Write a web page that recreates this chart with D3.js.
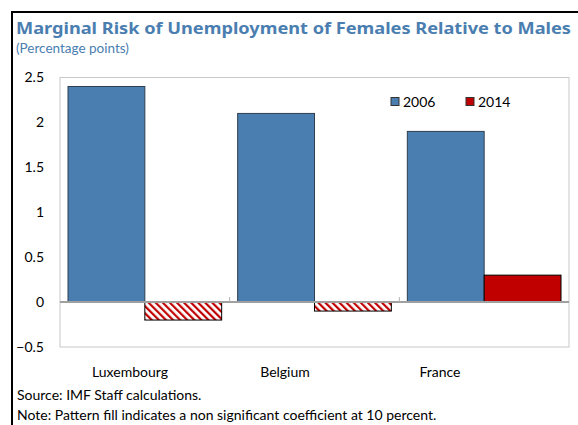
<!DOCTYPE html>
<html><head><meta charset="utf-8">
<script src="https://cdn.jsdelivr.net/npm/d3@7"></script>
<style>body{margin:0;background:#fff}svg{display:block}</style>
</head><body>
<script>
const categories = ["Luxembourg", "Belgium", "France"];
const seriesNames = ["2006", "2014"];
const values2006 = [2.4, 2.1, 1.9];
const values2014 = [-0.2, -0.1, 0.3];
const significant2014 = [false, false, true];
const yTicks = [-0.5, 0, 0.5, 1, 1.5, 2, 2.5];

(function () {
const W = 578, H = 425;
const font = "Lato, 'Open Sans', sans-serif";
const blue = "#4a7eb0", red = "#c00000", titleBlue = "#4a7eb0";

const svg = d3.select("body").append("svg").attr("width", W).attr("height", H);

const defs = svg.append("defs");
const pat = defs.append("pattern").attr("id", "hatch").attr("patternUnits", "userSpaceOnUse")
  .attr("width", 5).attr("height", 5).attr("patternTransform", "rotate(-45)");
pat.append("rect").attr("width", 5).attr("height", 5).attr("fill", "#fff");
pat.append("rect").attr("x", 0).attr("width", 2.2).attr("height", 5).attr("fill", red);

// frame
svg.append("line").attr("x1", 12).attr("x2", W).attr("y1", 12).attr("y2", 12).attr("stroke", "#000").attr("stroke-width", 2);
svg.append("line").attr("x1", 12).attr("x2", 12).attr("y1", 11).attr("y2", H).attr("stroke", "#000").attr("stroke-width", 2);

svg.append("text").attr("x", 16).attr("y", 34).attr("fill", titleBlue)
  .attr("font-family", "'Noto Sans', 'Open Sans', sans-serif").attr("font-weight", 700).attr("font-size", 16.5)
  .attr("textLength", 555).attr("lengthAdjust", "spacingAndGlyphs")
  .text("Marginal Risk of Unemployment of Females Relative to Males");
svg.append("text").attr("x", 16).attr("y", 53).attr("fill", titleBlue)
  .attr("font-family", font).attr("font-size", 13.5)
  .text("(Percentage points)");

const pl = 60, pr = 569, pt = 77.5, pb = 347;
const x = d3.scaleBand().domain(categories).range([pl, pr]).paddingInner(0).paddingOuter(0);
const xLabel = d3.scaleBand().domain(categories).range([52.5, 517.5]);
const y = d3.scaleLinear().domain([-0.5, 2.5]).range([pb, pt]);

// plot border
svg.append("rect").attr("x", pl).attr("y", pt).attr("width", pr - pl).attr("height", pb - pt)
  .attr("fill", "none").attr("stroke", "#c8c8c8").attr("stroke-width", 1);

// y axis labels
const yAxis = d3.axisLeft(y).tickValues(yTicks).tickSize(0).tickPadding(16).tickFormat(d => d3.format("")(d));
const gy = svg.append("g").attr("transform", `translate(${pl},0)`).call(yAxis);
gy.select(".domain").remove();
gy.selectAll("text").attr("font-family", font).attr("font-size", 14).attr("fill", "#000");

const pad = 8;
const barW = (x.bandwidth() - 2 * pad) / 2;

// bars 2006
svg.append("g").selectAll("rect").data(categories).join("rect")
  .attr("x", d => x(d) + pad)
  .attr("width", barW)
  .attr("y", (d, i) => y(Math.max(0, values2006[i])))
  .attr("height", (d, i) => Math.abs(y(values2006[i]) - y(0)))
  .attr("fill", blue).attr("stroke", "#2f3f4f").attr("stroke-width", 1);

// bars 2014
svg.append("g").selectAll("rect").data(categories).join("rect")
  .attr("x", d => x(d) + pad + barW)
  .attr("width", barW)
  .attr("y", (d, i) => y(Math.max(0, values2014[i])))
  .attr("height", (d, i) => Math.abs(y(values2014[i]) - y(0)))
  .attr("fill", (d, i) => significant2014[i] ? red : "url(#hatch)")
  .attr("stroke", "#000").attr("stroke-width", 1);

// zero line
svg.append("line").attr("x1", pl).attr("x2", pr).attr("y1", y(0)).attr("y2", y(0))
  .attr("stroke", "#a0a0a0").attr("stroke-width", 2);

// category ticks at band boundaries
svg.append("g").selectAll("line").data(categories.slice(1)).join("line")
  .attr("x1", d => x(d)).attr("x2", d => x(d))
  .attr("y1", y(0) - 5).attr("y2", y(0))
  .attr("stroke", "#b0b0b0").attr("stroke-width", 1);

// category labels
svg.append("g").selectAll("text").data(categories).join("text")
  .attr("x", d => xLabel(d) + xLabel.bandwidth() / 2).attr("y", 377)
  .attr("text-anchor", "middle").attr("font-family", font).attr("font-size", 14)
  .text(d => d);

// legend
const legX = [391, 466];
const colors = [blue, red];
const lg = svg.append("g").selectAll("g").data(seriesNames).join("g");
lg.append("rect").attr("x", (d, i) => legX[i]).attr("y", 97.5).attr("width", 8).attr("height", 8)
  .attr("fill", (d, i) => colors[i]).attr("stroke", "#333").attr("stroke-width", 1);
lg.append("text").attr("x", (d, i) => legX[i] + 12).attr("y", 107)
  .attr("font-family", font).attr("font-size", 14).text(d => d);

// notes
svg.append("text").attr("x", 17).attr("y", 400).attr("font-family", font).attr("font-size", 14)
  .text("Source: IMF Staff calculations.");
svg.append("text").attr("x", 17).attr("y", 420).attr("font-family", font).attr("font-size", 14)
  .text("Note: Pattern fill indicates a non significant coefficient at 10 percent.");
})();
</script>
</body></html>
